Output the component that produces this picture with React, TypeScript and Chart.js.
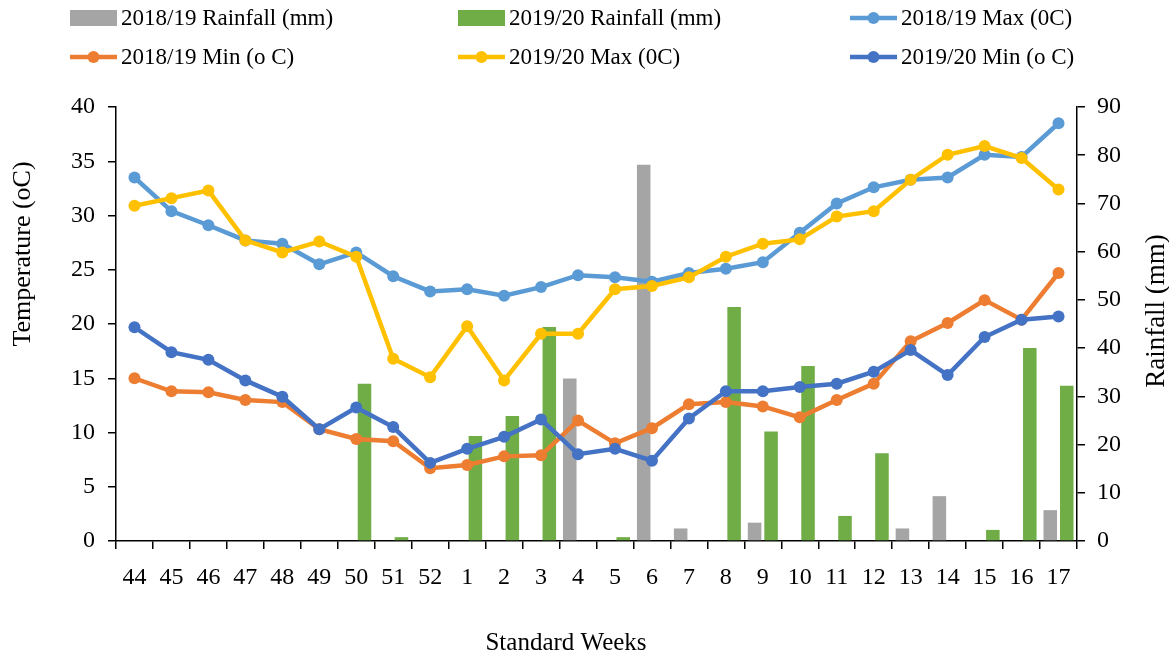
import React, { useEffect, useRef } from "react";
import { Chart, registerables } from "chart.js";
Chart.register(...registerables);

const weeks = ["44","45","46","47","48","49","50","51","52","1","2","3","4","5","6","7","8","9","10","11","12","13","14","15","16","17"];
const rain1819 = [0,0,0,0,0,0,0,0,0,0,0,0,33.7,0,78.0,2.6,0,3.8,0,0,0,2.6,9.3,0,0,6.4];
const rain1920 = [0,0,0,0,0,0,32.6,0.8,0,21.8,25.9,44.4,0,0.8,0,0,48.5,22.7,36.3,5.2,18.2,0,0,2.3,40.0,32.2];
const max1819 = [33.5,30.4,29.1,27.7,27.4,25.5,26.6,24.4,23.0,23.2,22.6,23.4,24.5,24.3,23.9,24.7,25.1,25.7,28.4,31.1,32.6,33.3,33.5,35.6,35.4,38.5];
const min1819 = [15.0,13.8,13.7,13.0,12.8,10.3,9.4,9.2,6.7,7.0,7.8,7.9,11.1,9.0,10.4,12.6,12.8,12.4,11.4,13.0,14.5,18.4,20.1,22.2,20.4,24.7];
const max1920 = [30.9,31.6,32.3,27.7,26.6,27.6,26.2,16.8,15.1,19.8,14.8,19.1,19.1,23.2,23.5,24.3,26.2,27.4,27.8,29.9,30.4,33.3,35.6,36.4,35.3,32.4];
const min1920 = [19.7,17.4,16.7,14.8,13.3,10.3,12.3,10.5,7.2,8.5,9.6,11.2,8.0,8.5,7.4,11.3,13.8,13.8,14.2,14.5,15.6,17.6,15.3,18.8,20.4,20.7];

const labelsLegend = [
  "2018/19 Rainfall (mm)",
  "2019/20 Rainfall (mm)",
  "2018/19 Max (0C)",
  "2018/19 Min (o C)",
  "2019/20 Max (0C)",
  "2019/20 Min (o C)",
];
const colors = ["#A5A5A5", "#70AD47", "#5B9BD5", "#ED7D31", "#FFC000", "#4472C4"];

const FONT = "'Liberation Serif', 'Times New Roman', serif";

const overlayPlugin = {
  id: "overlay",
  afterDraw(chart: any) {
    const ctx = chart.ctx as CanvasRenderingContext2D;
    ctx.save();
    const cols = [70, 458, 850];
    const rows = [18, 57];
    ctx.font = `23px ${FONT}`;
    ctx.textBaseline = "middle";
    ctx.textAlign = "left";
    labelsLegend.forEach((lab, i) => {
      const cx = cols[i % 3];
      const cy = rows[Math.floor(i / 3)];
      const col = colors[i];
      if (i < 2) {
        ctx.fillStyle = col;
        ctx.fillRect(cx, cy - 8, 47, 16);
      } else {
        ctx.strokeStyle = col;
        ctx.lineWidth = 4.5;
        ctx.beginPath();
        ctx.moveTo(cx, cy);
        ctx.lineTo(cx + 47, cy);
        ctx.stroke();
        ctx.fillStyle = col;
        ctx.beginPath();
        ctx.arc(cx + 23.5, cy, 6, 0, Math.PI * 2);
        ctx.fill();
      }
      ctx.fillStyle = "#000";
      ctx.fillText(lab, cx + 51, cy + 1);
    });
    ctx.fillStyle = "#000";
    ctx.textAlign = "center";
    ctx.textBaseline = "middle";
    ctx.font = `26px ${FONT}`;
    ctx.save();
    ctx.translate(23, 254);
    ctx.rotate(-Math.PI / 2);
    ctx.fillText("Temperature (oC)", 0, 0);
    ctx.restore();
    ctx.save();
    ctx.font = `27px ${FONT}`;
    ctx.translate(1157, 311);
    ctx.rotate(-Math.PI / 2);
    ctx.fillText("Rainfall (mm)", 0, 0);
    ctx.restore();
    ctx.font = `25px ${FONT}`;
    ctx.fillText("Standard Weeks", 566, 643);
    ctx.restore();
  },
};

export default function App() {
  const ref = useRef<HTMLCanvasElement | null>(null);
  useEffect(() => {
    if (!ref.current) return;
    const lineDs = (label: string, data: number[], color: string, order: number) => ({
      type: "line" as const,
      label,
      data,
      yAxisID: "y",
      borderColor: color,
      backgroundColor: color,
      borderWidth: 4.5,
      pointRadius: 6,
      pointBorderWidth: 0,
      pointBackgroundColor: color,
      tension: 0,
      order,
    });
    const tickFont = { family: FONT, size: 24 };
    const chart = new Chart(ref.current, {
      type: "bar",
      data: {
        labels: weeks,
        datasets: [
          { type: "bar", label: labelsLegend[0], data: rain1819, yAxisID: "y1", backgroundColor: colors[0], order: 4, categoryPercentage: 0.893, barPercentage: 0.82 } as any,
          { type: "bar", label: labelsLegend[1], data: rain1920, yAxisID: "y1", backgroundColor: colors[1], order: 5, categoryPercentage: 0.893, barPercentage: 0.82 } as any,
          lineDs(labelsLegend[2], max1819, colors[2], 3),
          lineDs(labelsLegend[3], min1819, colors[3], 2),
          lineDs(labelsLegend[4], max1920, colors[4], 1),
          lineDs(labelsLegend[5], min1920, colors[5], 0),
        ],
      },
      options: {
        responsive: false,
        animation: false,
        devicePixelRatio: 1,
        layout: { padding: { top: 107, left: 0, right: 0, bottom: 0 } },
        plugins: { legend: { display: false }, tooltip: { enabled: false } },
        scales: {
          x: {
            offset: true,
            grid: { display: true, drawOnChartArea: false, offset: true, tickLength: 8, color: "#000", lineWidth: 1.5 },
            border: { color: "#000", width: 1.5 },
            ticks: { color: "#000", font: tickFont, padding: 14, maxRotation: 0, autoSkip: false },
            afterFit: (s: any) => { s.height = 116; },
          },
          y: {
            position: "left",
            min: 0,
            max: 40,
            ticks: { stepSize: 5, color: "#000", font: tickFont, padding: 13 },
            grid: { drawOnChartArea: false, tickLength: 8, color: "#000", lineWidth: 1.5 },
            border: { color: "#000", width: 1.5 },
            afterFit: (s: any) => { s.width = 116; },
          },
          y1: {
            position: "right",
            min: 0,
            max: 90,
            ticks: { stepSize: 10, color: "#000", font: tickFont, padding: 12 },
            grid: { drawOnChartArea: false, tickLength: 8, color: "#000", lineWidth: 1.5 },
            border: { color: "#000", width: 1.5 },
            afterFit: (s: any) => { s.width = 92; },
          },
        },
      },
      plugins: [overlayPlugin],
    });
    return () => chart.destroy();
  }, []);
  return (
    <div style={{ position: "fixed", left: 0, top: 0, width: 1169, height: 657, background: "#fff" }}>
      <canvas ref={ref} width={1169} height={657} style={{ display: "block" }} />
    </div>
  );
}
